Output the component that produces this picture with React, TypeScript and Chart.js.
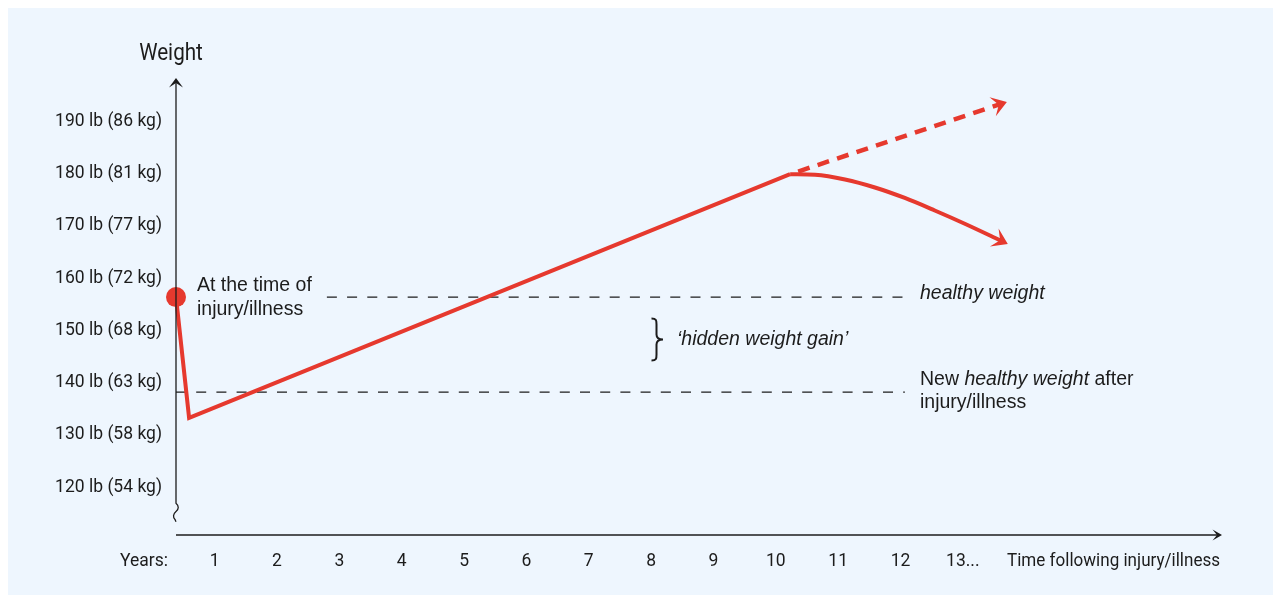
import { useEffect, useRef } from 'react';
import { Chart, registerables } from 'chart.js';

Chart.register(...registerables);

// ---- data ----
const yTickValues = [120, 130, 140, 150, 160, 170, 180, 190];
const yTickLabels = [
  '120 lb (54 kg)',
  '130 lb (58 kg)',
  '140 lb (63 kg)',
  '150 lb (68 kg)',
  '160 lb (72 kg)',
  '170 lb (77 kg)',
  '180 lb (81 kg)',
  '190 lb (86 kg)',
];
const xTickValues = [1, 2, 3, 4, 5, 6, 7, 8, 9, 10, 11, 12, 13];
const xTickLabels = ['1', '2', '3', '4', '5', '6', '7', '8', '9', '10', '11', '12', '13...'];

const trendYears = [0.38, 0.59, 10.23];
const trendWeight = [156.4, 133.3, 179.9];

const declineYears = [10.23, 10.63, 11.11, 11.59, 12.07, 12.55, 13.04, 13.52, 13.62];
const declineWeight = [179.9, 179.79, 178.89, 177.36, 175.35, 172.96, 170.38, 167.7, 167.13];

const continuedYears = [10.23, 13.6];
const continuedWeight = [179.9, 193.29];

const healthyYears = [2.8, 12.07];
const healthyWeight = [156.4, 156.4];

const newHealthyYears = [0.38, 12.07];
const newHealthyWeight = [138.2, 138.2];

const X_MIN = 0.38;
const X_MAX = 17.157;
const Y_MIN = 110.89;
const Y_MAX = 198.3;

// ---- styles ----
const RED = '#E6392E';
const INK = '#1c1c1c';
const BG = '#EEF6FE';
const COND = 'Roboto';
const SANS = '"Liberation Sans", Arial, sans-serif';

const pts = (xs: number[], ys: number[]) => xs.map((x, i) => ({ x, y: ys[i] }));

function arrowHead(
  ctx: CanvasRenderingContext2D,
  from: [number, number],
  end: [number, number],
  ext: number,
  L: number,
  W: number,
  notch: number,
  color: string
) {
  let dx = end[0] - from[0];
  let dy = end[1] - from[1];
  const len = Math.hypot(dx, dy) || 1;
  dx /= len;
  dy /= len;
  const px = -dy;
  const py = dx;
  const tx = end[0] + dx * ext;
  const ty = end[1] + dy * ext;
  ctx.save();
  ctx.fillStyle = color;
  ctx.beginPath();
  ctx.moveTo(tx, ty);
  ctx.lineTo(tx - dx * L + px * W, ty - dy * L + py * W);
  ctx.lineTo(tx - dx * notch, ty - dy * notch);
  ctx.lineTo(tx - dx * L - px * W, ty - dy * L - py * W);
  ctx.closePath();
  ctx.fill();
  ctx.restore();
}

function condensedText(ctx: CanvasRenderingContext2D, text: string, x: number, y: number, sx: number) {
  ctx.save();
  ctx.translate(x, y);
  ctx.scale(sx, 1);
  ctx.fillText(text, 0, 0);
  ctx.restore();
}

const decor = {
  id: 'decor',
  afterDatasetsDraw(chart: any) {
    const ctx: CanvasRenderingContext2D = chart.ctx;
    const xs = chart.scales.x;
    const ys = chart.scales.y;
    const p = (x: number, y: number): [number, number] => [xs.getPixelForValue(x), ys.getPixelForValue(y)];
    const n = declineYears.length;
    arrowHead(ctx, p(declineYears[n - 2], declineWeight[n - 2]), p(declineYears[n - 1], declineWeight[n - 1]), 7, 15, 10, 8.5, RED);
    arrowHead(ctx, p(continuedYears[0], continuedWeight[0]), p(continuedYears[1], continuedWeight[1]), 7, 15, 10, 8.5, RED);
  },
  afterDraw(chart: any) {
    const ctx: CanvasRenderingContext2D = chart.ctx;
    const { left, right, top, bottom } = chart.chartArea;
    ctx.save();
    // axes
    ctx.strokeStyle = INK;
    ctx.lineWidth = 1.3;
    ctx.beginPath();
    ctx.moveTo(left, top + 4);
    ctx.lineTo(left, 495.3);
    ctx.bezierCurveTo(left + 3, 498, left + 3, 501, left, 503.5);
    ctx.bezierCurveTo(left - 3, 506, left - 3.2, 509.5, left - 1, 511.5);
    ctx.lineTo(left, 513.7);
    ctx.stroke();
    ctx.beginPath();
    ctx.moveTo(left, bottom);
    ctx.lineTo(right - 4, bottom);
    ctx.stroke();
    arrowHead(ctx, [left, top + 10], [left, top], 0, 9.5, 7, 5, INK);
    arrowHead(ctx, [right - 10, bottom], [right, bottom], 0, 9.5, 5.5, 5, INK);

    // axis texts
    ctx.fillStyle = INK;
    ctx.font = `24px ${COND}`;
    ctx.textAlign = 'center';
    ctx.textBaseline = 'alphabetic';
    condensedText(ctx, 'Weight', 163, 52, 0.86);

    ctx.font = `17.5px ${COND}`;
    ctx.textBaseline = 'middle';
    ctx.textAlign = 'right';
    ctx.fillText('Years:', 160, 553.6);
    ctx.textAlign = 'left';
    condensedText(ctx, 'Time following injury/illness', 999, 553.6, 0.975);

    // annotations
    ctx.textBaseline = 'alphabetic';
    ctx.textAlign = 'left';
    const reg = `19.5px ${SANS}`;
    const ita = `italic 19.5px ${SANS}`;
    ctx.font = reg;
    ctx.fillText('At the time of', 189, 282.7);
    ctx.fillText('injury/illness', 189, 307);

    ctx.font = ita;
    ctx.fillText('healthy weight', 912, 291.3);
    ctx.fillText('\u2018hidden weight gain\u2019', 669, 337);

    let x = 912;
    ctx.font = reg;
    ctx.fillText('New ', x, 377);
    x += ctx.measureText('New ').width;
    ctx.font = ita;
    ctx.fillText('healthy weight', x, 377);
    x += ctx.measureText('healthy weight').width;
    ctx.font = reg;
    ctx.fillText(' after', x, 377);
    ctx.fillText('injury/illness', 912, 400.3);

    // brace
    const x0 = 643.5;
    const xm = 648.5;
    const xt = 655;
    const yT = 310.5;
    const yM = 331.5;
    const yB = 352.5;
    ctx.lineWidth = 2;
    ctx.beginPath();
    ctx.moveTo(x0, yT);
    ctx.bezierCurveTo(xm, yT, xm, yT + 2, xm, yT + 6);
    ctx.lineTo(xm, yM - 5);
    ctx.bezierCurveTo(xm, yM - 1, xt - 3, yM, xt, yM);
    ctx.bezierCurveTo(xt - 3, yM, xm, yM + 1, xm, yM + 5);
    ctx.lineTo(xm, yB - 6);
    ctx.bezierCurveTo(xm, yB - 2, xm, yB, x0, yB);
    ctx.stroke();
    ctx.restore();
  },
};

export default function App() {
  const ref = useRef<HTMLCanvasElement | null>(null);

  useEffect(() => {
    if (!ref.current) return;
    const chart = new Chart(ref.current, {
      type: 'line',
      data: {
        datasets: [
          {
            data: pts(trendYears, trendWeight),
            borderColor: RED,
            borderWidth: 4,
            borderJoinStyle: 'miter',
            tension: 0,
            pointRadius: (c: any) => (c.dataIndex === 0 ? 10 : 0),
            pointBackgroundColor: RED,
            pointBorderWidth: 0,
            clip: false,
            order: 0,
          } as any,
          {
            data: pts(declineYears, declineWeight),
            borderColor: RED,
            borderWidth: 4,
            cubicInterpolationMode: 'monotone',
            pointRadius: 0,
            clip: false,
            order: 1,
          } as any,
          {
            data: pts(continuedYears, continuedWeight),
            borderColor: RED,
            borderWidth: 4.5,
            borderDash: [12, 8.5],
            borderDashOffset: 12,
            pointRadius: 0,
            clip: false,
            order: 2,
          } as any,
          {
            data: pts(healthyYears, healthyWeight),
            borderColor: INK,
            borderWidth: 1.3,
            borderDash: [10, 10.2],
            pointRadius: 0,
            clip: false,
            order: 3,
          } as any,
          {
            data: pts(newHealthyYears, newHealthyWeight),
            borderColor: INK,
            borderWidth: 1.3,
            borderDash: [10, 10.2],
            pointRadius: 0,
            clip: false,
            order: 4,
          } as any,
        ],
      },
      options: {
        responsive: false,
        animation: false,
        events: [],
        devicePixelRatio: 1,
        layout: { padding: { top: 70, right: 51, bottom: 0, left: 0 } },
        plugins: {
          legend: { display: false },
          tooltip: { enabled: false },
        },
        scales: {
          x: {
            type: 'linear',
            min: X_MIN,
            max: X_MAX,
            grid: { display: false, drawTicks: false },
            border: { display: false },
            ticks: {
              autoSkip: false,
              maxRotation: 0,
              minRotation: 0,
              padding: 16,
              color: INK,
              font: { family: COND, size: 17.5 },
              callback: (_v: any, i: number) => xTickLabels[i],
            },
            afterBuildTicks: (s: any) => {
              s.ticks = xTickValues.map((v) => ({ value: v }));
            },
            afterFit: (s: any) => {
              s.height = 60;
            },
          },
          y: {
            type: 'linear',
            min: Y_MIN,
            max: Y_MAX,
            grid: { display: false, drawTicks: false },
            border: { display: false },
            ticks: {
              autoSkip: false,
              padding: 14,
              color: INK,
              font: { family: COND, size: 17.5 },
              callback: (_v: any, i: number) => yTickLabels[i],
            },
            afterBuildTicks: (s: any) => {
              s.ticks = yTickValues.map((v) => ({ value: v }));
            },
            afterFit: (s: any) => {
              s.width = 168;
            },
          },
        },
      } as any,
      plugins: [decor],
    });
    return () => chart.destroy();
  }, []);

  return (
    <div
      style={{
        position: 'absolute',
        left: 8,
        top: 8,
        width: 1265,
        height: 587,
        background: BG,
      }}
    >
      <canvas ref={ref} width={1265} height={587} style={{ display: 'block' }} />
    </div>
  );
}
